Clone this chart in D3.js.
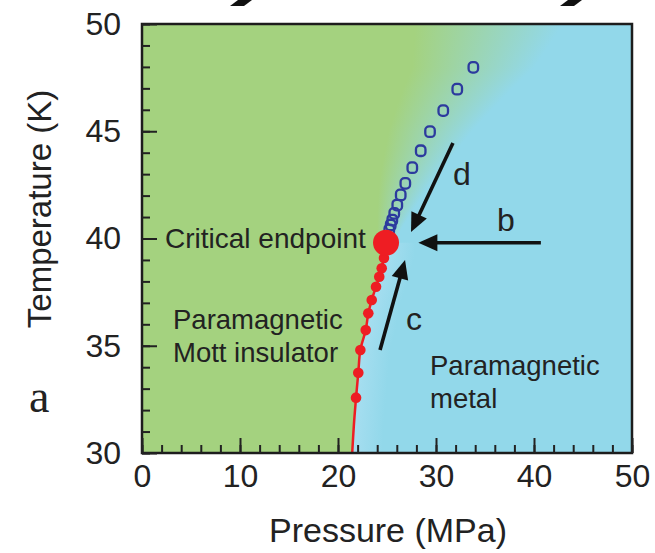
<!DOCTYPE html>
<html>
<head>
<meta charset="utf-8">
<script src="https://cdn.jsdelivr.net/npm/d3@7"></script>
<style>
  html, body { margin: 0; padding: 0; background: #ffffff; }
  svg { display: block; }
  text { font-family: "Liberation Sans", Arial, Helvetica, sans-serif; fill: #222; }
</style>
</head>
<body>
<svg id="chart" width="655" height="553"></svg>
<script>
// Phase diagram: first-order Mott transition line ending at a critical point,
// with the crossover line continuing above it.

// First-order transition line (measured points), pressure in MPa, temperature in K
const transitionP = [21.84, 22.07, 22.28, 22.83, 23.09, 23.44, 23.88, 24.21, 24.46, 24.69];
const transitionT = [32.58, 33.74, 34.80, 35.73, 36.51, 37.13, 37.75, 38.22, 38.61, 39.09];

// Smooth guide of the transition line down to the bottom of the diagram
const guideP = [21.45, 21.62, 21.84, 22.07, 22.28, 22.83, 23.09, 23.44, 23.88, 24.21, 24.46, 24.69, 24.9];
const guideT = [30.0, 31.3, 32.58, 33.74, 34.80, 35.73, 36.51, 37.13, 37.75, 38.22, 38.61, 39.09, 39.8];

// Critical endpoint
const criticalP = [24.9];
const criticalT = [39.8];

// Crossover points above the critical endpoint
const crossoverP = [25.23, 25.38, 25.54, 25.74, 26.05, 26.40, 26.87, 27.58, 28.44, 29.39, 30.74, 32.17, 33.81];
const crossoverT = [40.40, 40.63, 40.86, 41.17, 41.56, 42.03, 42.57, 43.30, 44.09, 44.98, 45.96, 46.96, 47.98];

// Pressure sweeps (arrows): start and end in (MPa, K)
const arrowNames = ["d", "b", "c"];
const arrowFromP = [31.73, 40.7, 24.29];
const arrowFromT = [44.45, 39.8, 34.80];
const arrowToP   = [27.45, 28.2, 26.84];
const arrowToT   = [40.30, 39.8, 39.00];

// Axis ticks
const xMajorTicks = [0, 10, 20, 30, 40, 50];
const xMinorTicks = d3.range(0, 51, 2);
const yMajorTicks = [30, 35, 40, 45, 50];
const yMinorTicks = d3.range(30, 51, 1);

const GREEN = "#a4d27f";
const BLUE = "#92d8ea";
const BLUE_LIGHT = "#a6def0";
const RED = "#ee1d23";
const MARKER_BLUE = "#2c3a9e";
const SANS = '"Liberation Sans", Arial, Helvetica, sans-serif';

const svg = d3.select("#chart");
const margin = { left: 142, right: 23, top: 24, bottom: 100 };
const W = 655, H = 553;
const x = d3.scaleLinear().domain([0, 50]).range([margin.left, W - margin.right]);
const y = d3.scaleLinear().domain([30, 50]).range([H - margin.bottom, margin.top]);

const defs = svg.append("defs");
defs.append("clipPath").attr("id", "plotClip")
  .append("rect")
  .attr("x", x(0)).attr("y", y(50))
  .attr("width", x(50) - x(0)).attr("height", y(30) - y(50));

// ---- background phases ----
const guidePts = guideT.map((t, i) => [guideP[i], t]);
const crossPts = crossoverT.map((t, i) => [crossoverP[i], t]);
// Pressure of the phase boundary as a function of temperature
const boundaryBelow = d3.scaleLinear().domain(guideT).range(guideP);
const boundaryAbove = d3.scaleLinear()
  .domain([criticalT[0]].concat(crossoverT))
  .range([criticalP[0]].concat(crossoverP))
  .clamp(true);
const topT = crossoverT[crossoverT.length - 1];

const bg = svg.append("g").attr("clip-path", "url(#plotClip)");
bg.append("rect")
  .attr("x", x(0)).attr("y", y(50))
  .attr("width", x(50) - x(0)).attr("height", y(30) - y(50))
  .attr("fill", GREEN);

const y0 = Math.round(y(50)), y1 = Math.round(y(30));
for (let py = y0; py <= y1; py++) {
  const t = y.invert(py + 0.5);
  const gid = "band" + py;
  const grad = defs.append("linearGradient")
    .attr("id", gid).attr("gradientUnits", "userSpaceOnUse")
    .attr("y1", 0).attr("y2", 0);
  if (t < criticalT[0]) {
    const bx = x(boundaryBelow(t));
    grad.attr("x1", bx).attr("x2", bx + 30);
    grad.append("stop").attr("offset", 0).attr("stop-color", BLUE_LIGHT);
    grad.append("stop").attr("offset", 1).attr("stop-color", BLUE);
    bg.append("rect")
      .attr("x", bx).attr("y", py - 0.25)
      .attr("width", x(50) - bx).attr("height", 1.5)
      .attr("fill", `url(#${gid})`);
  } else {
    let cx = x(boundaryAbove(t));
    if (t > topT) cx += (t - topT) * 8;
    const hw = 8 + (t - criticalT[0]) * 6.5;
    grad.attr("x1", cx - hw).attr("x2", cx + hw);
    grad.append("stop").attr("offset", 0).attr("stop-color", GREEN);
    grad.append("stop").attr("offset", 1).attr("stop-color", BLUE);
    bg.append("rect")
      .attr("x", x(0)).attr("y", py - 0.25)
      .attr("width", x(50) - x(0)).attr("height", 1.5)
      .attr("fill", `url(#${gid})`);
  }
}

// ---- transition line and points ----
const plot = svg.append("g").attr("clip-path", "url(#plotClip)");
const line = d3.line()
  .x(d => x(d[0])).y(d => y(d[1]))
  .curve(d3.curveCatmullRom);
plot.append("path")
  .datum(guidePts)
  .attr("d", line)
  .attr("fill", "none")
  .attr("stroke", RED)
  .attr("stroke-width", 2.5);

// crossover markers (open rounded squares)
const mw = 9.5, mh = 10.5;
plot.selectAll("rect.cross")
  .data(crossPts)
  .join("rect")
  .attr("class", "cross")
  .attr("x", d => x(d[0]) - mw / 2)
  .attr("y", d => y(d[1]) - mh / 2)
  .attr("width", mw).attr("height", mh)
  .attr("rx", 3.8)
  .attr("fill", "none")
  .attr("stroke", MARKER_BLUE)
  .attr("stroke-width", 2.3);

// first-order transition points
plot.selectAll("circle.trans")
  .data(transitionT.map((t, i) => [transitionP[i], t]))
  .join("circle")
  .attr("class", "trans")
  .attr("cx", d => x(d[0])).attr("cy", d => y(d[1]))
  .attr("r", 5.3)
  .attr("fill", RED);

// critical endpoint
plot.selectAll("circle.crit")
  .data(criticalT.map((t, i) => [criticalP[i], t]))
  .join("circle")
  .attr("class", "crit")
  .attr("cx", d => x(d[0])).attr("cy", d => y(d[1]))
  .attr("r", 13)
  .attr("fill", RED);

// ---- pressure-sweep arrows ----
const headLen = 19, headHalf = 8.5;
const arrows = svg.append("g");
arrowNames.forEach((name, i) => {
  const xa = x(arrowFromP[i]), ya = y(arrowFromT[i]);
  const xb = x(arrowToP[i]), yb = y(arrowToT[i]);
  const dx = xb - xa, dy = yb - ya;
  const len = Math.hypot(dx, dy);
  const ux = dx / len, uy = dy / len;
  const bxp = xb - ux * headLen, byp = yb - uy * headLen;
  arrows.append("line")
    .attr("x1", xa).attr("y1", ya)
    .attr("x2", bxp + ux * 2).attr("y2", byp + uy * 2)
    .attr("stroke", "#111").attr("stroke-width", 3.6);
  const px = -uy, py = ux;
  arrows.append("path")
    .attr("d", `M${xb},${yb}L${bxp + px * headHalf},${byp + py * headHalf}L${bxp - px * headHalf},${byp - py * headHalf}Z`)
    .attr("fill", "#111");
});

// arrow letters
const labels = svg.append("g").attr("font-size", 32);
labels.append("text").attr("x", 462).attr("y", 185).attr("text-anchor", "middle").text("d");
labels.append("text").attr("x", 506).attr("y", 231).attr("text-anchor", "middle").text("b");
labels.append("text").attr("x", 414).attr("y", 330).attr("text-anchor", "middle").text("c");

// region and point annotations
const notes = svg.append("g").attr("font-size", 27.5);
notes.append("text").attr("x", 165).attr("y", 248).attr("font-size", 28).text("Critical endpoint");
notes.append("text").attr("x", 173).attr("y", 329).text("Paramagnetic");
notes.append("text").attr("x", 173).attr("y", 362).text("Mott insulator");
notes.append("text").attr("x", 430).attr("y", 375).text("Paramagnetic");
notes.append("text").attr("x", 430).attr("y", 408).text("metal");

// ---- frame and axes ----
svg.append("rect")
  .attr("x", x(0)).attr("y", y(50))
  .attr("width", x(50) - x(0)).attr("height", y(30) - y(50))
  .attr("fill", "none").attr("stroke", "#1d1d1d").attr("stroke-width", 2.5);

function styleAxis(g) {
  g.select(".domain").remove();
  g.selectAll(".tick line").attr("stroke", "#222").attr("stroke-width", 2);
  g.selectAll(".tick text").attr("fill", "#1a1a1a").style("font-family", SANS);
}

svg.append("g").attr("transform", `translate(0,${y(30)})`)
  .call(d3.axisBottom(x).tickValues(xMinorTicks).tickSize(-8).tickFormat(""))
  .call(styleAxis);
svg.append("g").attr("transform", `translate(0,${y(30)})`)
  .call(d3.axisBottom(x).tickValues(xMajorTicks).tickSize(-15).tickPadding(11).tickFormat(d3.format("d")))
  .call(g => g.attr("font-size", 32))
  .call(styleAxis);

svg.append("g").attr("transform", `translate(${x(0)},0)`)
  .call(d3.axisLeft(y).tickValues(yMinorTicks).tickSize(-8).tickFormat(""))
  .call(styleAxis);
svg.append("g").attr("transform", `translate(${x(0)},0)`)
  .call(d3.axisLeft(y).tickValues(yMajorTicks).tickSize(-15).tickPadding(21).tickFormat(d3.format("d")))
  .call(g => g.attr("font-size", 32))
  .call(styleAxis);

// axis titles
svg.append("text")
  .attr("x", 388).attr("y", 542)
  .attr("text-anchor", "middle").attr("font-size", 34)
  .text("Pressure (MPa)");
svg.append("text")
  .attr("transform", `translate(51,${209}) rotate(-90)`)
  .attr("text-anchor", "middle").attr("font-size", 33)
  .text("Temperature (K)");

// panel letter
svg.append("text")
  .attr("x", 29).attr("y", 412)
  .style("font-family", '"Liberation Serif", "Times New Roman", serif')
  .attr("font-size", 46)
  .text("a");

// lower ends of the heading strokes cut by the top edge
svg.append("g").attr("fill", "#111")
  .selectAll("path")
  .data([[230, 238], [560, 568]])
  .join("path")
  .attr("d", d => `M${d[0]},6L${d[0] + 14},6L${d[1] + 14},0L${d[1]},0Z`);
</script>
</body>
</html>
